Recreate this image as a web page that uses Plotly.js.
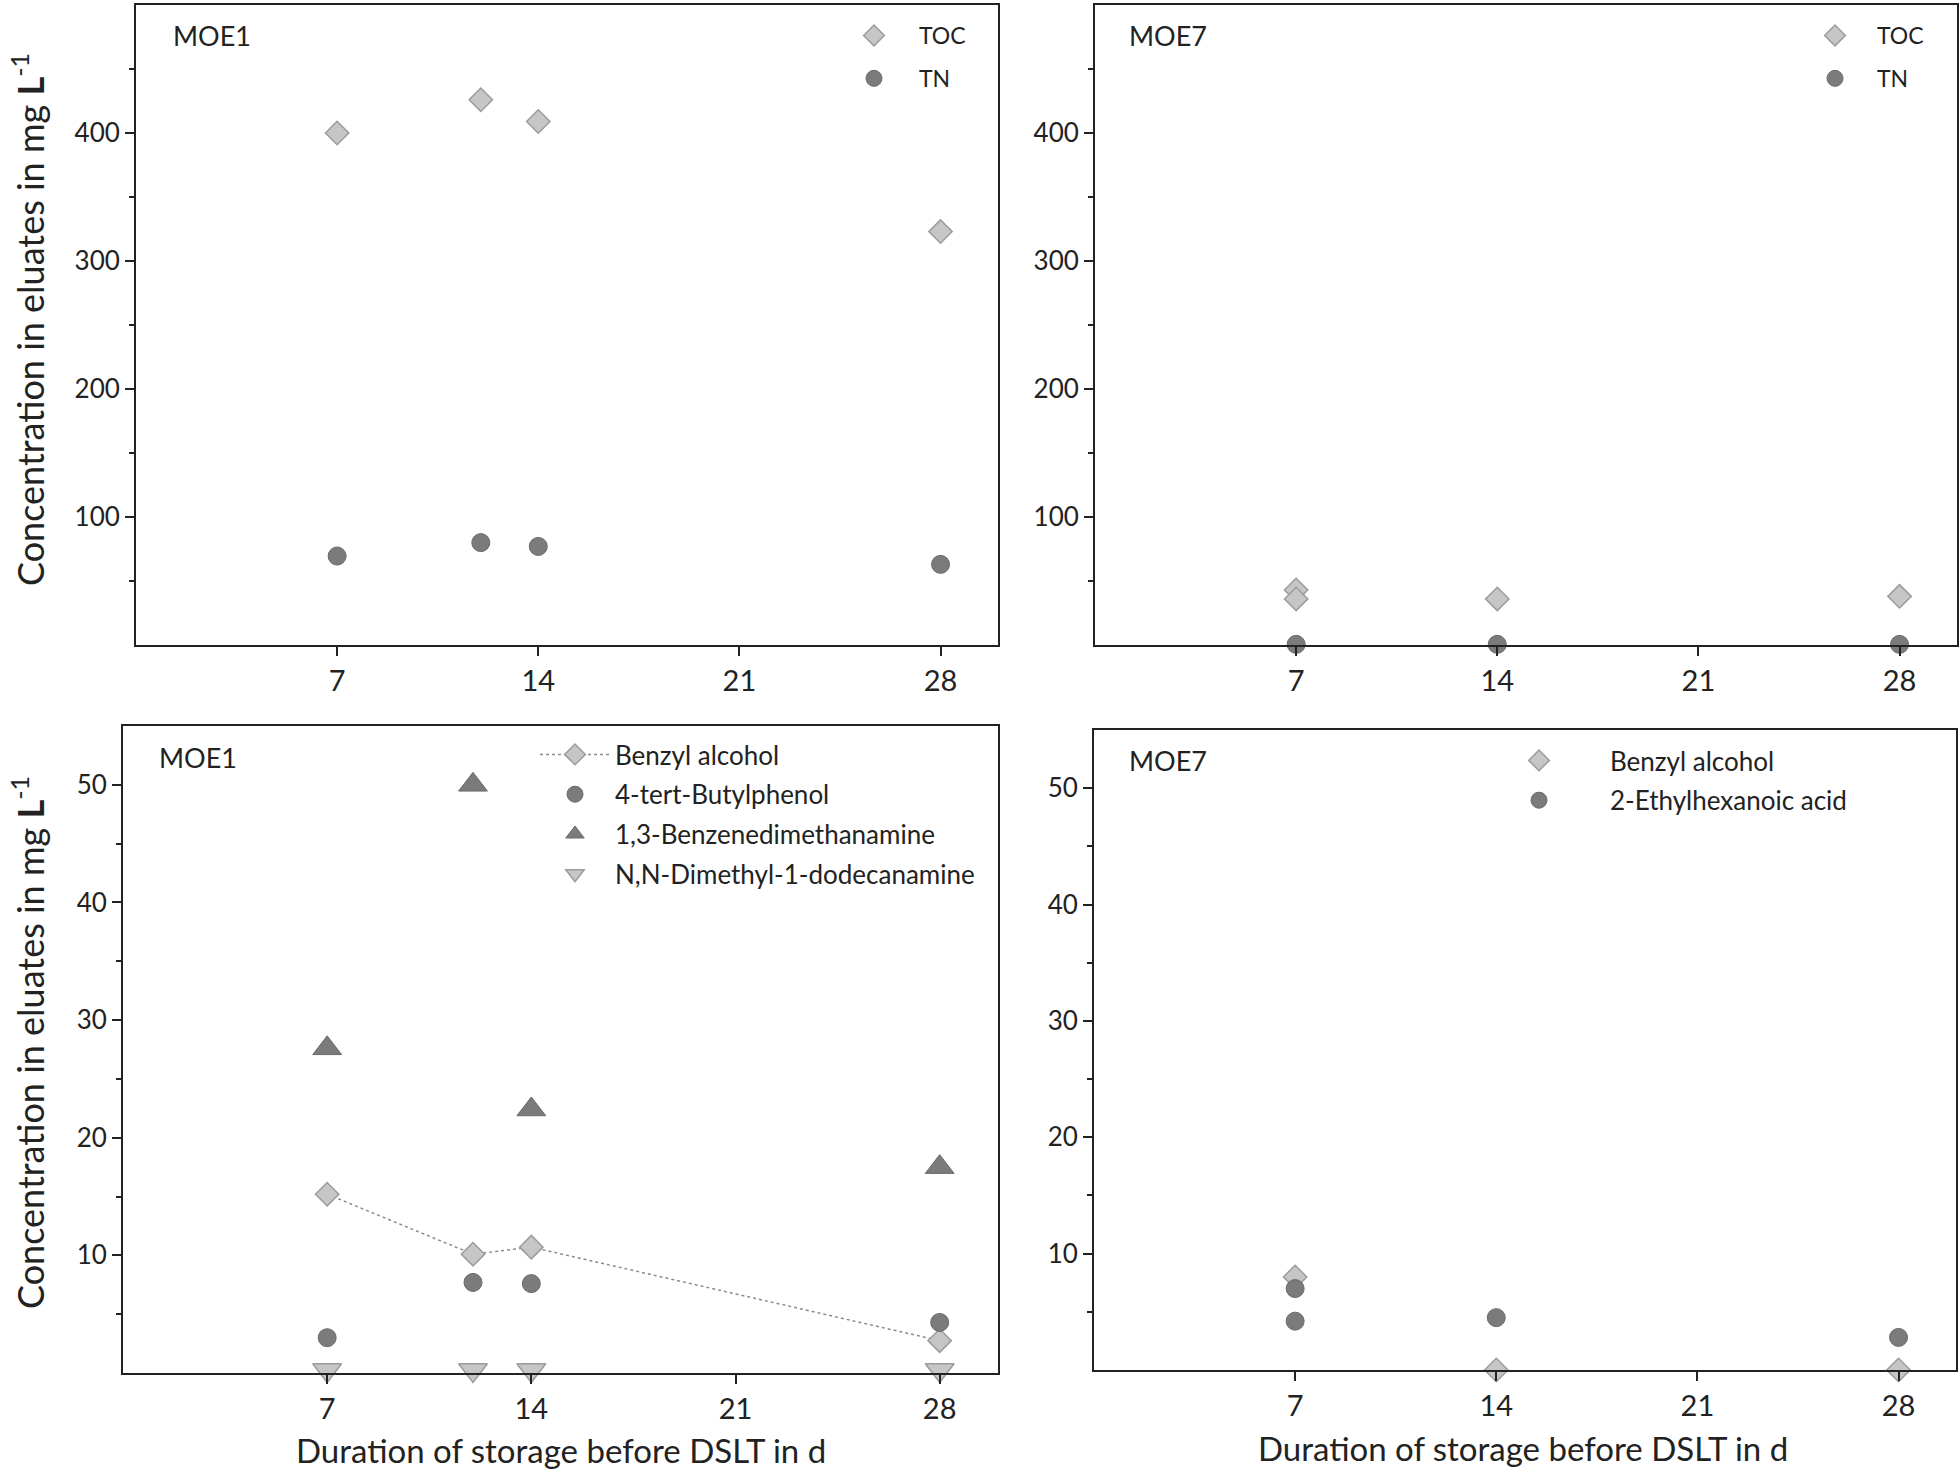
<!DOCTYPE html>
<html>
<head>
<meta charset="utf-8">
<script src="https://cdn.plot.ly/plotly-3.0.1.min.js"></script>
<style>html,body{margin:0;padding:0;background:#fff;}#chart{width:1960px;height:1473px;}</style>
</head>
<body>
<div id="chart"></div>
<script>
// ---------- data ----------
const xTickVals = [7, 14, 21, 28];
const xTickText = ["7", "14", "21", "28"];

// Top-left: MOE1 TOC / TN
const daysMOE1 = [7, 12, 14, 28];
const tocMOE1 = [400, 426, 409, 323];
const tnMOE1 = [69.5, 80, 77, 63];

// Top-right: MOE7 TOC / TN
const daysTocMOE7 = [7, 7, 14, 28];
const tocMOE7 = [43, 36, 36, 38];
const daysTnMOE7 = [7, 14, 28];
const tnMOE7 = [0.5, 0.5, 0.5];

// Bottom-left: MOE1 substances
const benzylMOE1 = [15.2, 10.1, 10.7, 2.75];
const butylphenolMOE1 = [3.0, 7.7, 7.6, 4.3];
const benzenedimethanamineMOE1 = [27.6, 50, 22.4, 17.5];
const dimethyldodecanamineMOE1 = [0.25, 0.25, 0.25, 0.25];

// Bottom-right: MOE7 substances
const daysBenzylMOE7 = [7, 14, 28];
const benzylMOE7 = [8.0, 0, 0];
const daysEthylhexMOE7 = [7, 7, 14, 28];
const ethylhexMOE7 = [7.0, 4.2, 4.5, 2.8];

const yTicksTop = [100, 200, 300, 400];
const yMinorTop = [50, 150, 250, 350, 450];
const yTicksBottom = [10, 20, 30, 40, 50];
const yMinorBottom = [5, 15, 25, 35, 45];

// ---------- styles ----------
const FONT = "Lato, 'Open Sans', sans-serif";
const TXT = "#222";
const lightFill = "#c6c6c6", lightLine = "#9c9c9c";
const darkFill = "#7b7b7b", darkLine = "#6a6a6a";

const diamond = {symbol: "diamond", size: 18, color: lightFill, line: {color: lightLine, width: 1.5}};
const circle = {symbol: "circle", size: 18, color: darkFill, line: {color: darkLine, width: 1}};
const triUp = {symbol: "triangle-up", size: 25, color: darkFill, line: {color: darkLine, width: 1}};
const triDown = {symbol: "triangle-down", size: 25, color: lightFill, line: {color: lightLine, width: 1.5}};

function sc(x, y, name, marker, xa, ya, legend, group, extra) {
  return Object.assign({
    type: "scatter", mode: "markers", x: x, y: y, name: name,
    marker: marker, xaxis: xa, yaxis: ya, legend: legend, legendgroup: group,
    cliponaxis: false, hoverinfo: "x+y+name"
  }, extra || {});
}

const traces = [
  sc(daysMOE1, tocMOE1, "TOC", diamond, "x", "y", "legend", "a1"),
  sc(daysMOE1, tnMOE1, "TN", circle, "x", "y", "legend", "a2"),
  sc(daysTocMOE7, tocMOE7, "TOC", diamond, "x2", "y2", "legend2", "b1"),
  sc(daysTnMOE7, tnMOE7, "TN", circle, "x2", "y2", "legend2", "b2"),
  sc(daysMOE1, benzylMOE1, "Benzyl alcohol", diamond, "x3", "y3", "legend3", "c1",
     {mode: "lines+markers", line: {color: "#8c8c8c", width: 1.5, dash: "dot"}}),
  sc(daysMOE1, butylphenolMOE1, "4-tert-Butylphenol", circle, "x3", "y3", "legend3", "c2"),
  sc(daysMOE1, benzenedimethanamineMOE1, "1,3-Benzenedimethanamine", triUp, "x3", "y3", "legend3", "c3"),
  sc(daysMOE1, dimethyldodecanamineMOE1, "N,N-Dimethyl-1-dodecanamine", triDown, "x3", "y3", "legend3", "c4"),
  sc(daysBenzylMOE7, benzylMOE7, "Benzyl alcohol", diamond, "x4", "y4", "legend4", "d1"),
  sc(daysEthylhexMOE7, ethylhexMOE7, "2-Ethylhexanoic acid", circle, "x4", "y4", "legend4", "d2")
];

function xax(domain, anchor) {
  return {
    domain: domain, anchor: anchor, range: [0, 30],
    tickmode: "array", tickvals: xTickVals, ticktext: xTickText,
    ticks: "outside", ticklen: 9, tickwidth: 2, tickcolor: TXT,
    showline: true, linewidth: 2, linecolor: TXT, mirror: true,
    showgrid: false, zeroline: false,
    tickfont: {family: FONT, size: 29, color: TXT}
  };
}
function yax(domain, anchor, range, ticks, minor) {
  return {
    domain: domain, anchor: anchor, range: range,
    tickmode: "array", tickvals: ticks,
    ticks: "outside", ticklen: 9, tickwidth: 2, tickcolor: TXT,
    minor: {tickmode: "array", tickvals: minor, ticks: "outside", ticklen: 5, tickwidth: 2, tickcolor: TXT, showgrid: false},
    showline: true, linewidth: 2, linecolor: TXT, mirror: true,
    showgrid: false, zeroline: false,
    tickfont: {family: FONT, size: 26, color: TXT}
  };
}

function leg(x, y, w, size, gap) {
  return {
    x: x, y: y, xanchor: "left", yanchor: "top",
    bgcolor: "rgba(0,0,0,0)", borderwidth: 0,
    font: {family: FONT, size: size, color: TXT},
    itemwidth: w, traceorder: "grouped", tracegroupgap: gap
  };
}

const W = 1960, H = 1473;
const px = v => v / W, py = v => 1 - v / H;

const layout = {
  width: W, height: H,
  margin: {l: 0, r: 0, t: 0, b: 0},
  paper_bgcolor: "#fff", plot_bgcolor: "#fff",
  font: {family: FONT, color: TXT},
  xaxis: xax([px(136), px(998)], "y"),
  yaxis: yax([py(645), py(5)], "x", [0, 500], yTicksTop, yMinorTop),
  xaxis2: xax([px(1095), px(1957)], "y2"),
  yaxis2: yax([py(645), py(5)], "x2", [0, 500], yTicksTop, yMinorTop),
  xaxis3: xax([px(123), px(998)], "y3"),
  yaxis3: yax([py(1373), py(726)], "x3", [0, 55], yTicksBottom, yMinorBottom),
  xaxis4: xax([px(1094), px(1956)], "y4"),
  yaxis4: yax([py(1370), py(730)], "x4", [0, 55], yTicksBottom, yMinorBottom),
  showlegend: true,
  legend: leg(px(829), py(14), 80, 23, 10),
  legend2: leg(px(1793), py(14), 74, 23, 10),
  legend3: leg(px(535), py(731), 70, 26, 3),
  legend4: leg(px(1468), py(737), 132, 26, 3),
  annotations: [
    {text: "MOE1", x: px(171), y: py(35), xref: "paper", yref: "paper", xanchor: "left", yanchor: "middle", showarrow: false, font: {family: FONT, size: 27, color: TXT}},
    {text: "MOE7", x: px(1127), y: py(35), xref: "paper", yref: "paper", xanchor: "left", yanchor: "middle", showarrow: false, font: {family: FONT, size: 27, color: TXT}},
    {text: "MOE1", x: px(157), y: py(757), xref: "paper", yref: "paper", xanchor: "left", yanchor: "middle", showarrow: false, font: {family: FONT, size: 27, color: TXT}},
    {text: "MOE7", x: px(1127), y: py(761), xref: "paper", yref: "paper", xanchor: "left", yanchor: "middle", showarrow: false, font: {family: FONT, size: 27, color: TXT}},
    {text: "Concentration in eluates in mg <b>L</b><sup>-1</sup>", textangle: -90, x: px(28), y: py(320), xref: "paper", yref: "paper", xanchor: "center", yanchor: "middle", showarrow: false, font: {family: FONT, size: 36, color: TXT}},
    {text: "Concentration in eluates in mg <b>L</b><sup>-1</sup>", textangle: -90, x: px(28), y: py(1043), xref: "paper", yref: "paper", xanchor: "center", yanchor: "middle", showarrow: false, font: {family: FONT, size: 36, color: TXT}},
    {text: "Duration of storage before DSLT in d", x: px(561), y: py(1450), xref: "paper", yref: "paper", xanchor: "center", yanchor: "middle", showarrow: false, font: {family: FONT, size: 33, color: TXT}},
    {text: "Duration of storage before DSLT in d", x: px(1523), y: py(1448), xref: "paper", yref: "paper", xanchor: "center", yanchor: "middle", showarrow: false, font: {family: FONT, size: 33, color: TXT}}
  ]
};

Plotly.newPlot("chart", traces, layout, {displayModeBar: false, staticPlot: true});
</script>
</body>
</html>
